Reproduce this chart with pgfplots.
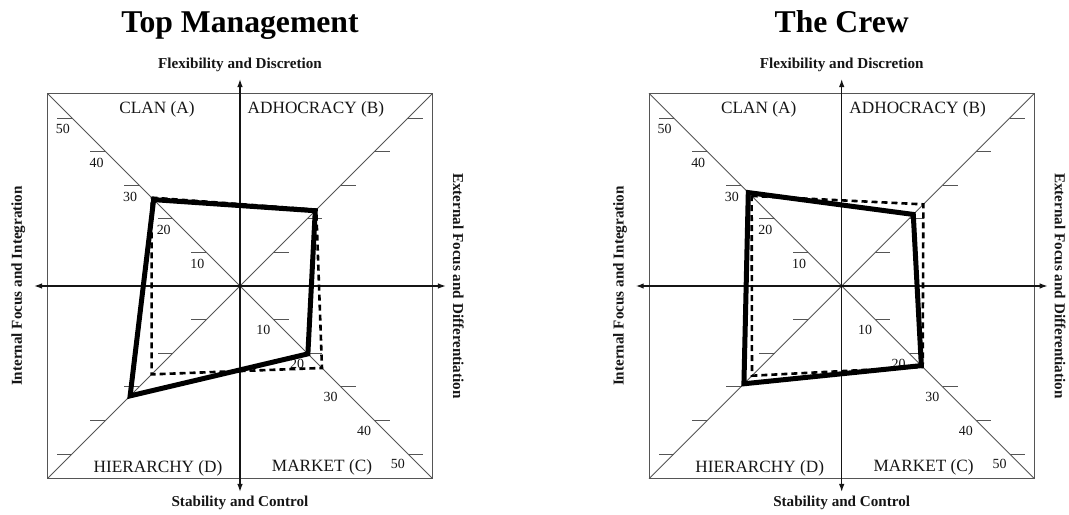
\documentclass[border=0pt]{standalone}
\usepackage{pgfplots}
\pgfplotsset{compat=1.18}
\usepackage{fontspec}
\setmainfont{Liberation Serif}
\usetikzlibrary{arrows.meta}
\definecolor{framecol}{HTML}{555555}
\definecolor{inkcol}{HTML}{151515}

\newcommand{\ocaipanel}[4]{%
\begin{axis}[at={(#1,229bp)}, anchor=origin, scale only axis,
  width=385.4bp, height=385.4bp,
  xmin=-57.35, xmax=57.35, ymin=-57.35, ymax=57.35,
  hide axis, clip=false]
  % frame and diagonals
  \draw[framecol, line width=0.8bp] (axis cs:-57.35,-57.35) rectangle (axis cs:57.35,57.35);
  \draw[framecol, line width=0.8bp] (axis cs:-57.35,-57.35) -- (axis cs:57.35,57.35);
  \draw[framecol, line width=0.8bp] (axis cs:-57.35,57.35) -- (axis cs:57.35,-57.35);
  % ticks on the diagonals
  \pgfplotsinvokeforeach{10,20,30,40,50}{
    \draw[framecol, line width=0.8bp] (axis cs:-##1,##1) -- (axis cs:-##1-4.5,##1);
    \draw[framecol, line width=0.8bp] (axis cs:##1,##1) -- (axis cs:##1+4.5,##1);
    \draw[framecol, line width=0.8bp] (axis cs:-##1,-##1) -- (axis cs:-##1-4.5,-##1);
    \draw[framecol, line width=0.8bp] (axis cs:##1,-##1) -- (axis cs:##1+4.5,-##1);
    \node[inkcol, anchor=north, inner sep=0pt, font=\fontsize{14}{15}\selectfont] at (axis cs:-##1-2.7,##1-1.9) {##1};
    \node[inkcol, anchor=north east, inner sep=0pt, font=\fontsize{14}{15}\selectfont] at (axis cs:##1-0.9,-##1-1.6) {##1};
  }
  % axes
  \draw[inkcol, line width=1.3bp, {Latex[length=8bp,width=5.5bp]}-{Latex[length=8bp,width=5.5bp]}] (axis cs:-61.3,0) -- (axis cs:61.3,0);
  \draw[inkcol, line width=1.3bp, {Latex[length=8bp,width=5.5bp]}-{Latex[length=8bp,width=5.5bp]}] (axis cs:0,-61.3) -- (axis cs:0,61.6);
  % quadrant names
  \node[inkcol, anchor=base, inner sep=0pt, font=\fontsize{17.3}{20}\selectfont] at (axis cs:-24.7,51.2) {CLAN (A)};
  \node[inkcol, anchor=base, inner sep=0pt, font=\fontsize{17.3}{20}\selectfont] at (axis cs:22.6,51.2) {ADHOCRACY (B)};
  \node[inkcol, anchor=base, inner sep=0pt, font=\fontsize{17.3}{20}\selectfont] at (axis cs:24.4,-55.1) {MARKET (C)};
  \node[inkcol, anchor=base, inner sep=0pt, font=\fontsize{17.3}{20}\selectfont] at (axis cs:-24.4,-55.4) {HIERARCHY (D)};
  % dimension labels
  \node[inkcol, anchor=base, inner sep=0pt, font=\bfseries\fontsize{15.2}{18}\selectfont] at (axis cs:0,64.8) {Flexibility and Discretion};
  \node[inkcol, anchor=base, inner sep=0pt, font=\bfseries\fontsize{15.2}{18}\selectfont] at (axis cs:0,-65.7) {Stability and Control};
  \node[inkcol, rotate=90, inner sep=0pt, font=\bfseries\fontsize{15.2}{18}\selectfont] at (axis cs:-66,0) {Internal Focus and Integration};
  \node[inkcol, rotate=-90, inner sep=0pt, font=\bfseries\fontsize{15.2}{18}\selectfont] at (axis cs:65,0) {External Focus and Differentiation};
  % title
  \node[black, anchor=base, inner sep=0pt, font=\bfseries\fontsize{31.8}{36}\selectfont] at (axis cs:0,75.3) {#2};
  % profiles
  \addplot[black, line width=2.6bp, dash pattern=on 6bp off 4bp, line join=miter, mark=none] coordinates {#4} -- cycle;
  \addplot[black, line width=5bp, line join=miter, mark=none] coordinates {#3} -- cycle;
\end{axis}}

\begin{document}
\begin{tikzpicture}
\useasboundingbox (0,0) rectangle (1069bp,515bp);
\ocaipanel{240bp}{Top Management}
  {(-25.7,25.7) (22.4,22.4) (20.2,-20.2) (-32.7,-32.7)}
  {(-26.3,26.3) (22.7,22.7) (24.4,-24.4) (-26.3,-26.3)}
\ocaipanel{841.7bp}{The Crew}
  {(-27.8,27.8) (21.3,21.3) (23.7,-23.7) (-29.1,-29.1)}
  {(-26.8,26.8) (24.3,24.3) (24.1,-24.1) (-26.7,-26.7)}
\end{tikzpicture}
\end{document}
